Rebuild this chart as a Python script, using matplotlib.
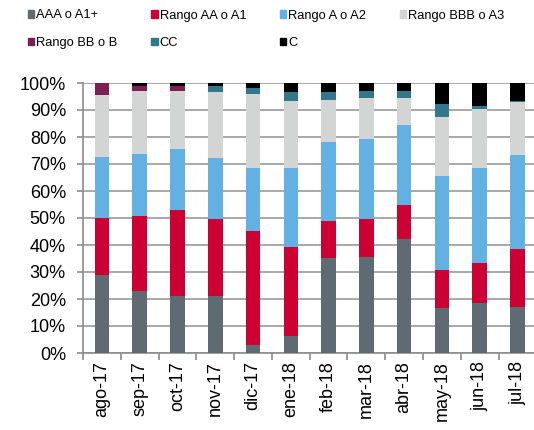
import numpy as np
import matplotlib
matplotlib.use("Agg")
import matplotlib.pyplot as plt
from matplotlib.patches import Patch

plt.rcParams['font.family'] = ['Liberation Sans', 'DejaVu Sans']

# monthly rating distribution, % of total
months = ['ago-17', 'sep-17', 'oct-17', 'nov-17', 'dic-17', 'ene-18',
          'feb-18', 'mar-18', 'abr-18', 'may-18', 'jun-18', 'jul-18']
aaa = [28.8, 23.1, 21.0, 21.0, 3.0, 6.2, 35.1, 35.6, 42.3, 16.7, 18.5, 17.0]
aa = [21.2, 27.5, 31.8, 28.8, 42.1, 32.9, 13.7, 14.2, 12.5, 14.0, 15.0, 21.6]
a = [22.7, 23.2, 22.6, 22.5, 23.3, 29.3, 29.3, 29.6, 29.8, 35.0, 34.9, 34.7]
bbb = [22.9, 23.1, 21.5, 24.4, 27.6, 24.9, 15.5, 15.0, 10.0, 21.8, 22.0, 19.7]
bb = [4.4, 2.1, 2.0, 0.0, 0.0, 0.0, 0.0, 0.0, 0.0, 0.0, 0.0, 0.0]
cc = [0.0, 0.0, 0.0, 2.2, 2.3, 3.4, 3.1, 2.8, 2.6, 4.8, 1.0, 0.5]
c = [0.0, 1.0, 1.1, 1.1, 1.7, 3.3, 3.3, 2.8, 2.8, 7.7, 8.6, 6.5]

series = [aaa, aa, a, bbb, bb, cc, c]
labels = ['AAA o A1+', 'Rango AA o A1', 'Rango A o A2', 'Rango BBB o A3',
          'Rango BB o B', 'CC', 'C']
colors = ['#5f6b73', '#cc0033', '#63b0e3', '#d3d4d4', '#7c1f52', '#31788d', '#000000']

fig = plt.figure(figsize=(5.34, 4.30), dpi=100)
ax = fig.add_axes([83 / 534, 77 / 430, 453.4 / 534, 270 / 430])

x = np.arange(len(months))
bottom = np.zeros(len(months))
for vals, col in zip(series, colors):
    vals = np.array(vals)
    ax.bar(x, vals, 0.386, bottom=bottom, color=col, zorder=3)
    bottom += vals

ax.set_xlim(-0.5, 11.5)
ax.set_ylim(0, 100)
ax.set_yticks(np.arange(0, 101, 10))
ax.set_yticklabels(['%d%%' % v for v in range(0, 101, 10)])
ax.yaxis.grid(True, color='#9a9a9a', linewidth=1.2, zorder=0)

ax.set_xticks(x)
ax.set_xticklabels(months, rotation=90)
ax.set_xticks(np.arange(-0.5, 11.6, 1), minor=True)
ax.tick_params(axis='x', which='major', length=0, pad=6, labelsize=13)
ax.tick_params(axis='x', which='minor', length=5, width=1.2, color='#8c8c8c')
ax.tick_params(axis='y', length=4.3, width=1.2, color='#8c8c8c', pad=8, labelsize=13)

for s in ['top', 'right']:
    ax.spines[s].set_visible(False)
for s in ['left', 'bottom']:
    ax.spines[s].set_color('#8c8c8c')
    ax.spines[s].set_linewidth(1.2)

# legend laid out row-wise: 4 columns, 2 rows
order = [0, 4, 1, 5, 2, 6, 3]
handles = [Patch(color=colors[i]) for i in order]
fig.legend(handles, [labels[i] for i in order], ncol=4,
           loc='upper left', bbox_to_anchor=(28 / 534, 1 - 9.5 / 430),
           frameon=False, fontsize=9.3, borderpad=0, borderaxespad=0,
           handlelength=0.5, handleheight=0.5, handletextpad=0.15,
           columnspacing=2.6, labelspacing=1.2)

fig.savefig('out.png', dpi=100)
